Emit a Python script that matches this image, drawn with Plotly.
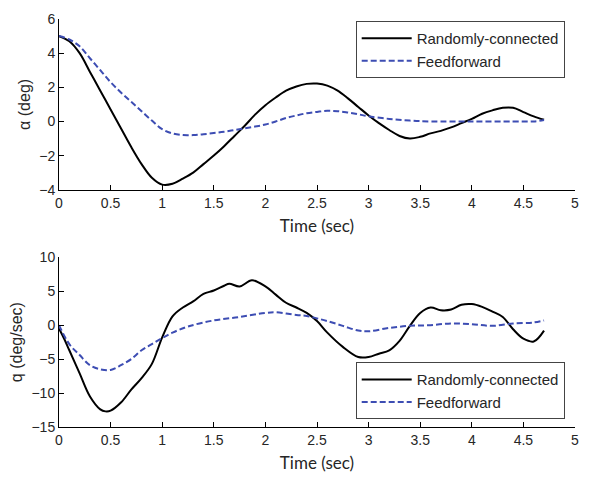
import plotly.graph_objects as go
from plotly.subplots import make_subplots

# Angle of attack response (deg)
t_alpha_rc = [0, 0.1, 0.2, 0.3, 0.4, 0.5, 0.6, 0.7, 0.8, 0.9, 1.0, 1.1, 1.2, 1.3, 1.4,
              1.5, 1.6, 1.7, 1.8, 1.9, 2.0, 2.1, 2.2, 2.3, 2.4, 2.5, 2.6, 2.7, 2.8, 2.9,
              3.0, 3.1, 3.2, 3.3, 3.4, 3.5, 3.6, 3.7, 3.8, 3.9, 4.0, 4.1, 4.2, 4.3, 4.4,
              4.5, 4.6, 4.7]
alpha_rc = [5.0, 4.7, 4.0, 2.9, 1.8, 0.7, -0.4, -1.5, -2.5, -3.3, -3.7, -3.65, -3.35,
            -3.0, -2.5, -2.0, -1.45, -0.85, -0.25, 0.4, 0.95, 1.4, 1.8, 2.05, 2.2, 2.22,
            2.1, 1.8, 1.35, 0.85, 0.35, -0.1, -0.5, -0.85, -1.0, -0.9, -0.7, -0.55,
            -0.35, -0.1, 0.15, 0.45, 0.65, 0.8, 0.8, 0.55, 0.3, 0.1]

t_alpha_ff = [0, 0.1, 0.2, 0.3, 0.4, 0.5, 0.6, 0.7, 0.8, 0.9, 1.0, 1.1, 1.2, 1.3, 1.4, 1.5,
              1.6, 1.7, 1.8, 1.9, 2.0, 2.1, 2.2, 2.3, 2.4, 2.5, 2.6, 2.7, 2.8, 2.9, 3.0,
              3.2, 3.4, 3.6, 4.0, 4.4, 4.6, 4.7]
alpha_ff = [5.0, 4.8, 4.4, 3.7, 3.0, 2.3, 1.7, 1.15, 0.6, 0.05, -0.45, -0.7, -0.8, -0.8,
            -0.75, -0.68, -0.6, -0.5, -0.4, -0.3, -0.18, 0.0, 0.2, 0.35, 0.48, 0.56,
            0.62, 0.6, 0.52, 0.42, 0.3, 0.15, 0.05, 0.0, 0.0, 0.0, 0.0, 0.08]

# Pitch rate response (deg/sec)
t_q_rc = [0, 0.05, 0.1, 0.2, 0.3, 0.4, 0.45, 0.5, 0.6, 0.7, 0.8, 0.9, 1.0, 1.1, 1.2, 1.3,
          1.4, 1.5, 1.6, 1.65, 1.75, 1.87, 2.0, 2.1, 2.2, 2.3, 2.4, 2.5, 2.6, 2.75, 2.9,
          3.0, 3.1, 3.2, 3.3, 3.4, 3.5, 3.6, 3.7, 3.8, 3.9, 4.0, 4.1, 4.2, 4.3, 4.4,
          4.5, 4.6, 4.7]
q_rc = [-0.5, -2.0, -3.7, -7.1, -10.5, -12.4, -12.7, -12.6, -11.4, -9.5, -7.8, -5.7, -1.8,
        1.3, 2.6, 3.5, 4.6, 5.1, 5.8, 6.1, 5.7, 6.6, 5.7, 4.5, 3.3, 2.6, 1.8, 0.6, -1.1,
        -3.2, -4.7, -4.7, -4.2, -3.7, -2.3, -0.1, 1.8, 2.6, 2.2, 2.3, 3.0, 3.1, 2.7, 2.0,
        1.2, -0.6, -2.0, -2.4, -0.8]

t_q_ff = [0, 0.1, 0.2, 0.3, 0.4, 0.5, 0.6, 0.7, 0.8, 0.9, 1.0, 1.1, 1.25, 1.5, 1.75, 2.0,
          2.1, 2.3, 2.4, 2.5, 2.6, 2.75, 2.9, 3.0, 3.2, 3.4, 3.6, 3.8, 4.0, 4.2, 4.4,
          4.6, 4.7]
q_ff = [0.0, -2.8, -4.4, -5.9, -6.5, -6.6, -5.9, -5.0, -3.7, -2.8, -1.9, -1.1, -0.2, 0.7,
        1.2, 1.8, 1.9, 1.5, 1.35, 1.0, 0.6, -0.1, -0.8, -0.9, -0.4, -0.1, 0.0, 0.25,
        0.15, -0.1, 0.25, 0.4, 0.7]

x_ticks = [0, 0.5, 1, 1.5, 2, 2.5, 3, 3.5, 4, 4.5, 5]
alpha_ticks = [-4, -2, 0, 2, 4, 6]
q_ticks = [-15, -10, -5, 0, 5, 10]

BLACK = "#000000"
BLUE = "#3d4db3"
TEXT = "#262626"
SANS = "Arial, Liberation Sans"

fig = make_subplots(rows=2, cols=1, vertical_spacing=0.0)

fig.add_trace(go.Scatter(x=t_alpha_rc, y=alpha_rc, mode="lines", name="Randomly-connected",
                         line=dict(color=BLACK, width=2, shape="spline"), legend="legend"),
              row=1, col=1)
fig.add_trace(go.Scatter(x=t_alpha_ff, y=alpha_ff, mode="lines", name="Feedforward",
                         line=dict(color=BLUE, width=2, dash="6px,3px", shape="spline"),
                         legend="legend"), row=1, col=1)
fig.add_trace(go.Scatter(x=t_q_rc, y=q_rc, mode="lines", name="Randomly-connected",
                         line=dict(color=BLACK, width=2, shape="spline"), legend="legend2"),
              row=2, col=1)
fig.add_trace(go.Scatter(x=t_q_ff, y=q_ff, mode="lines", name="Feedforward",
                         line=dict(color=BLUE, width=2, dash="6px,3px", shape="spline"),
                         legend="legend2"), row=2, col=1)

axis_common = dict(showline=True, linecolor="#000000", linewidth=1, mirror=False,
                   ticks="inside", ticklen=5, tickcolor="#000000", showgrid=False,
                   zeroline=False, tickfont=dict(family=SANS, size=14, color=TEXT))

for r in (1, 2):
    fig.update_xaxes(range=[0, 5], tickvals=x_ticks, ticktext=[f"{v:g}" for v in x_ticks],
                     title=dict(text="Time (sec)", standoff=10,
                                font=dict(family="Lato", size=17, color=TEXT)),
                     **axis_common, row=r, col=1)

fig.update_yaxes(range=[-4, 6], tickvals=alpha_ticks, domain=[0.5815, 1.0],
                 title=dict(text="α (deg)", standoff=4,
                            font=dict(family=SANS, size=16, color=TEXT)),
                 **axis_common, row=1, col=1)
fig.update_yaxes(range=[-15, 10], tickvals=q_ticks, domain=[0.0, 0.416],
                 title=dict(text="q (deg/sec)", standoff=4,
                            font=dict(family=SANS, size=16, color=TEXT)),
                 **axis_common, row=2, col=1)

legend_style = dict(bgcolor="#ffffff", bordercolor="#444444", borderwidth=1,
                    font=dict(family=SANS, size=15, color=TEXT), itemwidth=50,
                    xanchor="left", yanchor="top", tracegroupgap=0)

fig.update_layout(
    width=590, height=481,
    margin=dict(l=59, r=11, t=16, b=54),
    paper_bgcolor="#ffffff", plot_bgcolor="#ffffff",
    legend=dict(x=0.575, y=0.995, **legend_style),
    legend2=dict(x=0.575, y=0.159, **legend_style),
)

fig.write_html("out.html")
